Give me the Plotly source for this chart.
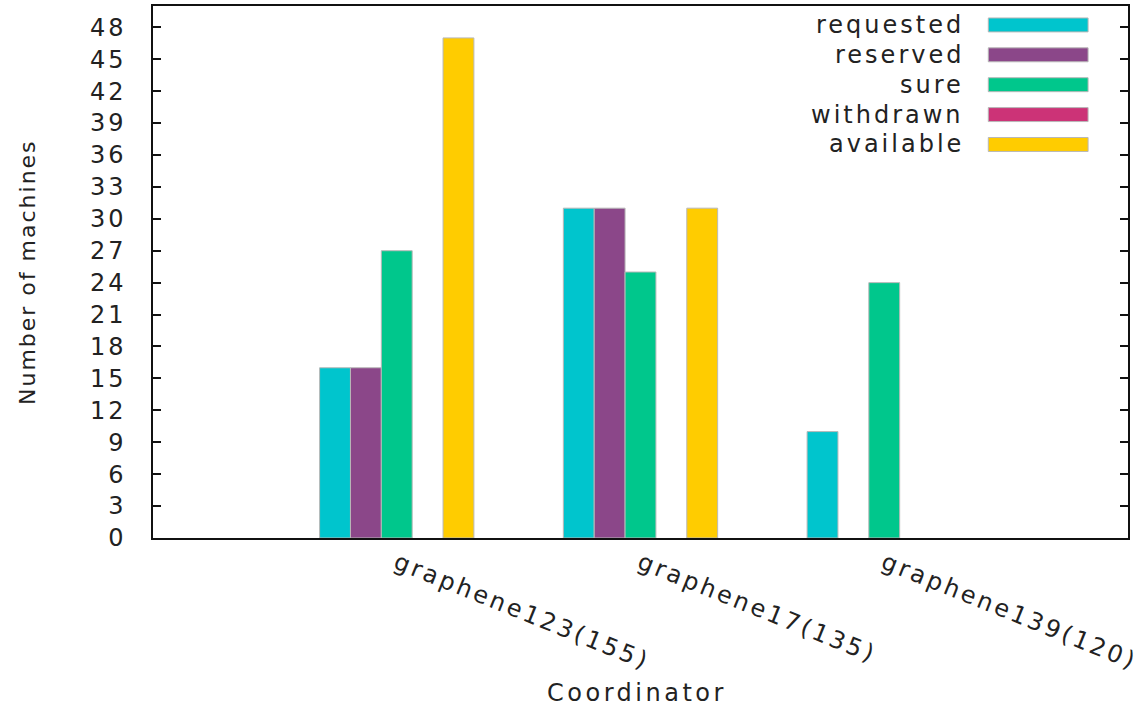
import plotly.graph_objects as go

# ---- data ----
coordinators = ["graphene123(155)", "graphene17(135)", "graphene139(120)"]
series_names = ["requested", "reserved", "sure", "withdrawn", "available"]
requested = [16, 31, 10]
reserved = [16, 31, 0]
sure = [27, 25, 24]
withdrawn = [0, 0, 0]
available = [47, 31, 0]
colors = ["#00C5CD", "#8B4789", "#00C78C", "#CC3377", "#FFCC00"]
y_ticks = list(range(0, 49, 3))

series_values = [requested, reserved, sure, withdrawn, available]

FONT = "DejaVu Sans"
TXT = "#222222"


def spaced(s, ls=3):
    return f'<span style="letter-spacing:{ls}px">{s}</span>'


W, H = 1145, 708
L, R, T, B = 153, 1130, 4, 538  # plot area pixels

fig = go.Figure()
xpos = list(range(len(coordinators)))
for name, vals, col in zip(series_names, series_values, colors):
    fig.add_trace(go.Bar(
        x=xpos, y=vals, name=name,
        marker=dict(color=col,
                    line=dict(color="#b8b8b8",
                              width=[1 if v > 0 else 0 for v in vals])),
        showlegend=False,
    ))


def px_x(p):
    return (p - L) / (R - L)


def px_y(p):
    return (B - p) / (B - T)


shapes = []
annotations = []
# custom legend: label text on the left, colour swatch on the right
for i, (name, col) in enumerate(zip(series_names, colors)):
    yc = 23 + 30 * i
    annotations.append(dict(
        x=px_x(968), y=px_y(yc), xref="paper", yref="paper",
        text=spaced(name, 3), showarrow=False, xanchor="right", yanchor="middle",
        font=dict(family=FONT, size=24, color=TXT),
    ))
    shapes.append(dict(
        type="rect", xref="paper", yref="paper",
        x0=px_x(990), x1=px_x(1090), y0=px_y(yc + 7), y1=px_y(yc - 7),
        fillcolor=col, line=dict(color="#b8b8b8", width=1),
    ))

annotations.append(dict(
    x=0, y=0.5, xref="paper", yref="paper", xshift=-126,
    text=spaced("Number of machines", 2), textangle=-90, showarrow=False,
    xanchor="center", yanchor="middle",
    font=dict(family=FONT, size=22, color=TXT),
))
annotations.append(dict(
    x=0.5, y=0, xref="paper", yref="paper", xshift=-4, yshift=-155,
    text=spaced("Coordinator", 3.5), showarrow=False,
    xanchor="center", yanchor="middle",
    font=dict(family=FONT, size=24, color=TXT),
))

fig.update_layout(
    width=W, height=H,
    margin=dict(l=L, r=W - R, t=T, b=H - B, pad=0),
    barmode="group", bargap=0.367, bargroupgap=0,
    plot_bgcolor="white", paper_bgcolor="white",
    font=dict(family=FONT, size=24, color=TXT),
    shapes=shapes, annotations=annotations,
    xaxis=dict(
        range=[-1, 3], tickvals=xpos,
        ticktext=[spaced(c, 3) for c in coordinators],
        tickangle=22, ticks="", showgrid=False, zeroline=False,
        showline=True, mirror=True, linecolor="#111111", linewidth=1.5,
        tickfont=dict(family=FONT, size=24, color=TXT),
    ),
    yaxis=dict(
        range=[0, 50], tickvals=y_ticks,
        ticktext=[spaced(str(v), 3) for v in y_ticks],
        ticks="inside", ticklen=8, tickcolor="#111111", tickwidth=1.5,
        showgrid=False, zeroline=False,
        showline=True, mirror="ticks", linecolor="#111111", linewidth=1.5,
        ticklabelstandoff=20,
        tickfont=dict(family=FONT, size=24, color=TXT),
    ),
)

fig.write_html("out.html", config={"displayModeBar": False},
               post_script="document.body.style.margin='0';")
